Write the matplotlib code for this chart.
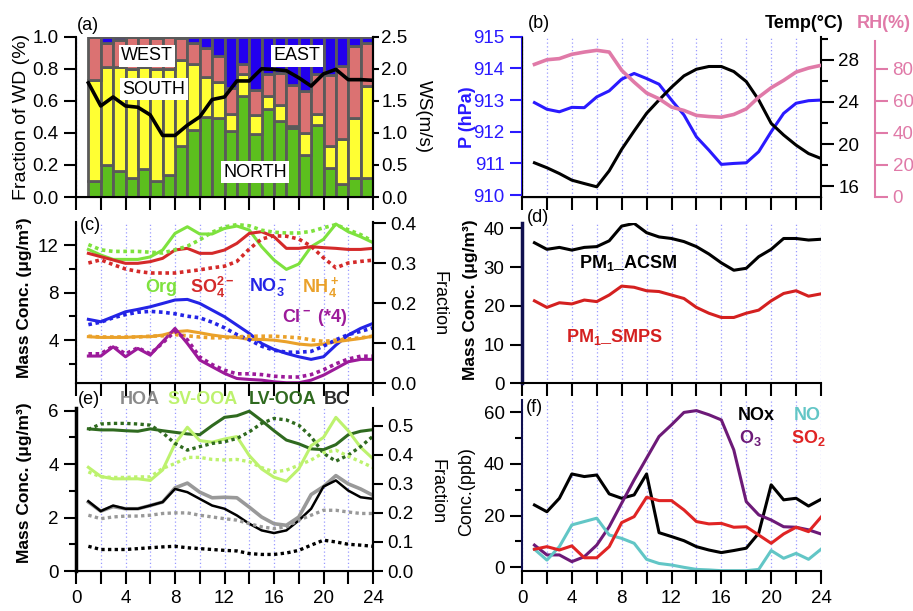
import numpy as np
import matplotlib
matplotlib.use('Agg')
import matplotlib.pyplot as plt
from matplotlib.ticker import MultipleLocator, FuncFormatter, FormatStrFormatter

plt.rcParams['font.family'] = ['Liberation Sans', 'DejaVu Sans']
plt.rcParams['mathtext.fontset'] = 'custom'
plt.rcParams['mathtext.rm'] = 'Liberation Sans'
plt.rcParams['mathtext.bf'] = 'Liberation Sans:bold'
plt.rcParams['mathtext.it'] = 'Liberation Sans:italic'
plt.rcParams['font.size'] = 13

# ---------------- data ----------------
hours = np.arange(1, 25)
bar_hours = np.arange(1, 24)

# (a) wind direction fractions per hour and wind speed
north = [0.10, 0.20, 0.16, 0.12, 0.175, 0.10, 0.14, 0.32, 0.42, 0.50, 0.49, 0.41,
         0.63, 0.395, 0.55, 0.475, 0.43, 0.26, 0.45, 0.18, 0.08, 0.12, 0.12]
south = [0.63, 0.61, 0.65, 0.68, 0.635, 0.70, 0.66, 0.535, 0.41, 0.25, 0.23, 0.11,
         0.14, 0.115, 0.08, 0.10, 0.015, 0.14, 0.07, 0.14, 0.28, 0.37, 0.57]
west = [0.27, 0.15, 0.17, 0.20, 0.19, 0.19, 0.20, 0.135, 0.13, 0.18, 0.16, 0.16,
        0.06, 0.155, 0.14, 0.20, 0.255, 0.26, 0.25, 0.44, 0.46, 0.45, 0.27]
east = [0.0, 0.04, 0.02, 0.0, 0.0, 0.01, 0.0, 0.01, 0.04, 0.07, 0.12, 0.32,
        0.17, 0.335, 0.23, 0.225, 0.30, 0.34, 0.23, 0.24, 0.18, 0.06, 0.04]
ws = [1.78, 1.42, 1.56, 1.42, 1.40, 1.28, 0.96, 0.96, 1.12, 1.25, 1.52, 1.56,
      1.81, 1.81, 2.00, 1.99, 1.97, 1.86, 1.73, 1.92, 1.99, 1.83, 1.83, 1.82]

# (b) meteorology
pres = [912.92, 912.71, 912.63, 912.77, 912.76, 913.10, 913.29, 913.66, 913.84, 913.68,
        913.50, 913.00, 912.53, 911.84, 911.42, 910.97, 911.00, 911.02, 911.37, 912.00,
        912.58, 912.90, 912.98, 913.00]
temp = [18.22, 17.75, 17.20, 16.57, 16.25, 15.94, 17.46, 19.50, 21.24, 22.92, 24.19, 25.40,
        26.48, 27.11, 27.37, 27.37, 26.89, 25.94, 24.19, 21.97, 20.86, 19.90, 19.10, 18.63]
rh = [82.7, 85.6, 86.3, 89.0, 90.4, 91.5, 90.4, 79.0, 71.6, 64.8, 61.2, 56.0,
      53.9, 50.8, 50.1, 49.7, 51.4, 54.9, 62.2, 68.1, 72.7, 77.9, 80.4, 82.1]

# (c) species mass conc. (solid) and fraction (dotted)
org = [11.63, 11.16, 10.79, 10.79, 10.79, 11.00, 11.58, 12.98, 13.54, 12.93, 12.93, 13.40,
       13.60, 13.26, 11.86, 10.74, 9.95, 10.40, 11.86, 12.48, 13.77, 13.12, 12.70, 12.20]
org_f = [0.346, 0.333, 0.329, 0.329, 0.329, 0.327, 0.325, 0.333, 0.342, 0.358, 0.377, 0.390,
         0.396, 0.393, 0.382, 0.377, 0.375, 0.375, 0.379, 0.388, 0.396, 0.383, 0.371, 0.354]
so4 = [11.30, 11.02, 10.74, 10.46, 10.46, 10.60, 10.88, 11.58, 11.72, 11.30, 11.30, 11.58,
       12.14, 12.98, 13.12, 12.70, 11.72, 11.72, 11.86, 11.78, 11.72, 11.63, 11.63, 11.72]
so4_f = [0.300, 0.308, 0.296, 0.285, 0.279, 0.275, 0.275, 0.275, 0.279, 0.283, 0.288, 0.292,
         0.304, 0.335, 0.360, 0.368, 0.367, 0.360, 0.342, 0.313, 0.288, 0.300, 0.304, 0.307]
no3 = [5.74, 5.54, 5.96, 6.38, 6.58, 6.80, 7.08, 7.37, 7.42, 7.08, 6.52, 5.96,
       5.26, 4.56, 3.71, 3.21, 2.87, 2.59, 2.37, 2.59, 3.57, 4.42, 4.98, 5.40]
no3_f = [0.146, 0.152, 0.163, 0.171, 0.177, 0.179, 0.177, 0.173, 0.167, 0.163, 0.152, 0.138,
         0.121, 0.108, 0.092, 0.082, 0.077, 0.077, 0.079, 0.092, 0.108, 0.121, 0.129, 0.138]
nh4 = [4.28, 4.22, 4.22, 4.22, 4.28, 4.28, 4.42, 4.70, 4.78, 4.61, 4.42, 4.28,
       4.22, 4.05, 4.05, 3.99, 3.85, 3.66, 3.57, 3.66, 3.85, 3.99, 4.13, 4.33]
nh4_f = [0.117, 0.115, 0.115, 0.115, 0.115, 0.117, 0.118, 0.121, 0.118, 0.115, 0.113, 0.113,
         0.115, 0.117, 0.117, 0.117, 0.115, 0.113, 0.108, 0.104, 0.107, 0.110, 0.113, 0.117]
cl = [2.65, 2.65, 3.43, 2.59, 3.29, 2.73, 3.85, 4.98, 3.71, 2.31, 1.75, 1.19,
      0.76, 0.68, 0.62, 0.48, 0.40, 0.40, 0.62, 1.04, 1.60, 2.17, 2.37, 2.37]
cl_f = [0.073, 0.073, 0.092, 0.073, 0.088, 0.073, 0.100, 0.129, 0.108, 0.065, 0.046, 0.032,
        0.023, 0.023, 0.021, 0.017, 0.015, 0.015, 0.021, 0.033, 0.048, 0.060, 0.067, 0.067]

# (d) PM1
acsm = [36.3, 34.6, 35.1, 34.4, 35.1, 35.3, 36.8, 40.6, 41.3, 38.9, 37.8, 37.4,
        36.6, 35.3, 33.4, 31.1, 29.2, 29.7, 32.7, 34.6, 37.4, 37.4, 37.0, 37.2]
smps = [21.3, 19.6, 20.8, 20.5, 21.5, 21.1, 22.8, 25.1, 24.8, 23.9, 23.7, 22.8,
        21.9, 19.6, 18.1, 17.0, 17.0, 18.1, 18.9, 21.3, 23.2, 23.9, 22.5, 23.1]

# (e) OA factors and BC
hoa = [2.58, 2.24, 2.41, 2.33, 2.33, 2.45, 2.58, 3.11, 3.29, 2.95, 2.74, 2.76,
       2.74, 2.39, 2.02, 1.77, 1.71, 2.02, 2.86, 3.16, 3.57, 3.26, 3.07, 2.83]
hoa_f = [0.192, 0.180, 0.186, 0.189, 0.189, 0.192, 0.198, 0.200, 0.200, 0.192, 0.186, 0.180,
         0.175, 0.163, 0.152, 0.146, 0.152, 0.175, 0.192, 0.209, 0.209, 0.203, 0.198, 0.198]
svooa = [3.88, 3.54, 3.45, 3.45, 3.45, 3.39, 3.78, 4.76, 5.38, 4.88, 4.82, 4.94,
         5.03, 4.32, 3.82, 3.51, 3.36, 3.82, 4.69, 5.00, 5.75, 5.25, 4.63, 4.20]
svooa_f = [0.341, 0.324, 0.322, 0.322, 0.324, 0.324, 0.353, 0.370, 0.391, 0.391, 0.384, 0.382,
           0.384, 0.376, 0.356, 0.341, 0.347, 0.364, 0.382, 0.407, 0.416, 0.395, 0.376, 0.356]
lvooa = [5.32, 5.28, 5.28, 5.25, 5.23, 5.32, 5.25, 5.19, 5.13, 5.10, 5.44, 5.75,
         5.81, 5.98, 5.63, 5.25, 4.90, 4.76, 4.57, 4.54, 4.73, 5.10, 5.23, 5.29]
lvooa_f = [0.487, 0.506, 0.508, 0.508, 0.506, 0.502, 0.476, 0.439, 0.416, 0.428, 0.439, 0.445,
           0.456, 0.479, 0.508, 0.525, 0.520, 0.502, 0.462, 0.405, 0.378, 0.399, 0.428, 0.464]
bc = [2.61, 2.24, 2.45, 2.33, 2.33, 2.45, 2.58, 3.07, 2.95, 2.70, 2.45, 2.33,
      2.08, 1.77, 1.52, 1.42, 1.52, 1.89, 2.33, 3.16, 3.39, 3.01, 2.76, 2.70]
bc_f = [0.085, 0.074, 0.074, 0.074, 0.077, 0.080, 0.083, 0.085, 0.080, 0.077, 0.074, 0.071,
        0.069, 0.060, 0.057, 0.057, 0.062, 0.071, 0.089, 0.106, 0.100, 0.092, 0.089, 0.085]

# (f) gases
nox = [24.1, 21.5, 26.7, 36.1, 35.1, 35.7, 28.4, 26.7, 28.0, 36.1, 13.4, 11.9,
       10.3, 8.0, 6.7, 5.7, 6.5, 7.4, 13.2, 31.9, 26.1, 26.7, 23.7, 26.3]
o3 = [8.6, 4.8, 4.8, 2.2, 4.1, 8.6, 15.7, 24.8, 33.8, 42.2, 50.6, 55.1,
      59.9, 60.6, 59.0, 57.0, 45.4, 25.4, 20.3, 18.3, 15.7, 15.5, 14.5, 12.9]
no = [7.0, 2.8, 8.0, 16.4, 17.7, 19.0, 12.5, 11.2, 9.3, 3.1, 1.5, 0.9,
      0.0, -0.8, -1.0, -1.3, -1.3, -1.3, -0.8, 6.5, 3.5, 5.4, 3.1, 7.0]
so2 = [7.0, 8.0, 6.7, 8.3, 3.7, 3.7, 8.0, 17.3, 19.6, 27.1, 25.8, 25.8,
       22.2, 17.7, 16.8, 17.0, 15.5, 15.7, 12.5, 9.3, 12.9, 15.5, 13.8, 19.4]

# ---------------- layout ----------------
W, H = 913, 611
fig = plt.figure(figsize=(W / 100, H / 100), dpi=100)
GRID = '#9a9aff'
DOT = (0, (1, 1))


def box(x0, top, x1, bottom):
    return fig.add_axes([x0 / W, 1 - bottom / H, (x1 - x0) / W, (bottom - top) / H])


def ftxt(x, y, s, **kw):
    kw.setdefault('ha', 'center')
    kw.setdefault('va', 'center')
    return fig.text(x / W, 1 - y / H, s, **kw)


def xstyle(ax, labels=False):
    ax.set_xlim(0, 24)
    ax.xaxis.set_major_locator(MultipleLocator(2))
    ax.xaxis.set_major_formatter(FuncFormatter(
        lambda v, p: f'{v:.0f}' if labels and v % 4 == 0 else ''))
    ax.grid(axis='x', color=GRID, ls=(0, (1, 2)), lw=0.9)
    ax.set_axisbelow(True)
    ax.tick_params(axis='x', direction='out', length=9, width=1.5, labelsize=13.5, pad=5)
    ax.spines['top'].set_visible(False)
    for s in ax.spines.values():
        s.set_linewidth(1.5)


def ystyle(ax, color='black', length=9):
    ax.tick_params(axis='y', which='major', direction='out', length=length, width=1.5,
                   labelsize=13.5, colors=color)
    ax.tick_params(axis='y', which='minor', direction='out', length=5, width=1.5, colors=color)


LX0, LX1 = 76, 373
RX0, RX1 = 522, 821

# ---- (a) wind direction and speed
axa = box(LX0, 36.7, LX1, 197)
xstyle(axa)
bottom = np.zeros(len(bar_hours))
for vals, col in [(north, '#5cbf1e'), (south, '#ffff33'), (west, '#db7272'), (east, '#2200ee')]:
    axa.bar(bar_hours, vals, width=1, align='edge', bottom=bottom, color=col,
            edgecolor='#5a5a5a', linewidth=2)
    bottom += np.array(vals)
axa.set_ylim(0, 1.0)
axa.yaxis.set_major_locator(MultipleLocator(0.2))
axa.yaxis.set_major_formatter(FormatStrFormatter('%.1f'))
ystyle(axa)
axa2 = axa.twinx()
axa2.plot(hours, ws, color='black', lw=2.6)
axa2.set_ylim(0, 2.5)
axa2.yaxis.set_major_locator(MultipleLocator(0.5))
axa2.yaxis.set_major_formatter(FormatStrFormatter('%.1f'))
axa2.spines['top'].set_visible(False)
axa2.spines['right'].set_linewidth(1.5)
ystyle(axa2, length=4)
axa2.tick_params(axis='y', pad=2)
for s, xy in [('WEST', (147, 56)), ('SOUTH', (154, 89)), ('EAST', (297, 56)), ('NORTH', (255, 172))]:
    ftxt(*xy, s, fontsize=13, bbox=dict(facecolor='white', edgecolor='none', pad=1.5))
ftxt(88, 25, '(a)')
ftxt(22, 117, 'Fraction of WD (%)', rotation=90, fontsize=14)
ftxt(423, 117, 'WS(m/s)', rotation=270, fontsize=13.5)

# ---- (b) meteorology
P_C, RH_C = '#2a1aff', '#e07aa8'
axb = box(RX0, 36.7, RX1, 196.7)
xstyle(axb)
axb.plot(hours, pres, color=P_C, lw=2.2)
axb.set_ylim(909.95, 915)
axb.yaxis.set_major_locator(MultipleLocator(1))
ystyle(axb, P_C)
axb.spines['left'].set_color(P_C)
axb.spines['right'].set_visible(False)
axb_t = axb.twinx()
axb_t.plot(hours, temp, color='black', lw=2.2)
axb_t.set_ylim(15, 30.2)
axb_t.yaxis.set_major_locator(MultipleLocator(4))
axb_t.yaxis.set_minor_locator(MultipleLocator(2))
axb_t.spines['top'].set_visible(False)
axb_t.spines['right'].set_linewidth(1.5)
ystyle(axb_t)
axb_r = axb.twinx()
axb_r.plot(hours, rh, color=RH_C, lw=2.6)
axb_r.set_ylim(0, 100)
axb_r.set_yticks([0, 20, 40, 60, 80])
axb_r.spines['right'].set_position(('outward', 39))
axb_r.spines['right'].set_bounds(0, 97)
axb_r.spines['right'].set_color(RH_C)
axb_r.spines['right'].set_linewidth(1.5)
axb_r.spines['top'].set_visible(False)
ystyle(axb_r, RH_C)
ftxt(539, 24, '(b)')
ftxt(843, 23, 'Temp(°C)', ha='right', fontsize=13, fontweight='bold')
ftxt(857, 23, 'RH(%)', ha='left', fontsize=13, fontweight='bold', color=RH_C)
ftxt(468, 117, 'P (hPa)', rotation=90, fontsize=13, fontweight='bold', color=P_C)

# ---- (c) inorganic species
C_ORG, C_SO4, C_NO3, C_NH4, C_CL = '#7ee23e', '#d42a2a', '#2424e6', '#eaa12a', '#9c1a9a'
axc = box(LX0, 222, LX1, 383)
xstyle(axc)
axc2 = axc.twinx()
for vals, frac, col in [(org, org_f, C_ORG), (so4, so4_f, C_SO4), (no3, no3_f, C_NO3),
                        (nh4, nh4_f, C_NH4), (cl, cl_f, C_CL)]:
    axc.plot(hours, vals, color=col, lw=2.2)
    axc2.plot(hours, frac, color=col, lw=2.6, ls=DOT)
axc.set_ylim(0.38, 13.94)
axc.yaxis.set_major_locator(MultipleLocator(4))
axc.yaxis.set_minor_locator(MultipleLocator(2))
ystyle(axc)
axc2.set_ylim(0, 0.4025)
axc2.yaxis.set_major_locator(MultipleLocator(0.1))
axc2.yaxis.set_major_formatter(FormatStrFormatter('%.1f'))
axc2.spines['top'].set_visible(False)
axc2.spines['right'].set_linewidth(1.5)
ystyle(axc2)
ftxt(90, 225, '(c)')
ftxt(161, 287, 'Org', fontweight='bold', color=C_ORG)
ftxt(212, 287, r'$\mathbf{SO_4^{2-}}$', color=C_SO4)
ftxt(268, 287, r'$\mathbf{NO_3^-}$', color=C_NO3)
ftxt(321, 287, r'$\mathbf{NH_4^+}$', color=C_NH4)
ftxt(315, 318, r'$\mathbf{Cl^-}$ (*4)', fontweight='bold', color=C_CL)
ftxt(24, 298, 'Mass Conc. (μg/m³)', rotation=90, fontsize=12.5, fontweight='bold')
ftxt(439, 304, 'Fraction', rotation=270)

# ---- (d) PM1
axd = box(RX0, 223, RX1, 383.3)
xstyle(axd)
axd.plot(hours, acsm, color='black', lw=2.2)
axd.plot(hours, smps, color='#d42020', lw=2.2)
axd.set_ylim(0, 41.4)
axd.yaxis.set_major_locator(MultipleLocator(10))
ystyle(axd)
axd.spines['right'].set_visible(False)
axd.spines['left'].set_color('#101050')
axd.spines['left'].set_linewidth(2.5)
ftxt(538, 218, '(d)')
ftxt(628, 263, r'$\mathbf{PM_1}$_ACSM', fontweight='bold')
ftxt(615, 337, r'$\mathbf{PM_1}$_SMPS', fontweight='bold', color='#d42020')
ftxt(470, 300, 'Mass Conc. (μg/m³)', rotation=90, fontsize=12.5, fontweight='bold')

# ---- (e) OA factors and BC
C_HOA, C_SV, C_LV = '#999999', '#bdf26e', '#2f6a1f'
axe = box(LX0, 408, LX1, 571)
xstyle(axe, labels=True)
axe2 = axe.twinx()
for vals, frac, col, lw in [(lvooa, lvooa_f, C_LV, 2.2), (svooa, svooa_f, C_SV, 2.2),
                            (hoa, hoa_f, C_HOA, 2.6), (bc, bc_f, 'black', 1.8)]:
    axe.plot(hours, vals, color=col, lw=lw)
    axe2.plot(hours, frac, color=col, lw=2.4, ls=DOT)
axe.set_ylim(0, 6.1)
axe.yaxis.set_major_locator(MultipleLocator(2))
axe.yaxis.set_minor_locator(MultipleLocator(1))
ystyle(axe)
axe.spines['left'].set_linewidth(2.5)
axe2.set_ylim(0, 0.561)
axe2.yaxis.set_major_locator(MultipleLocator(0.1))
axe2.yaxis.set_major_formatter(FormatStrFormatter('%.1f'))
axe2.spines['top'].set_visible(False)
axe2.spines['right'].set_bounds(0, 0.51)
axe2.spines['right'].set_linewidth(1.5)
ystyle(axe2, length=7)
ftxt(89, 399, '(e)')
ftxt(140, 400, 'HOA', fontweight='bold', color='#8a8a8a')
ftxt(203, 400, 'SV-OOA', fontweight='bold', color=C_SV)
ftxt(283, 400, 'LV-OOA', fontweight='bold', color=C_LV)
ftxt(337, 400, 'BC', fontweight='bold', color='#2b2b2b')
ftxt(25, 483, 'Mass Conc. (μg/m³)', rotation=90, fontsize=12.5, fontweight='bold')
ftxt(437, 492, 'Fraction', rotation=270)

# ---- (f) gases
C_NO, C_O3, C_SO2 = '#62c6c6', '#6d1a78', '#e02424'
axf = box(RX0, 400, RX1, 570.7)
xstyle(axf, labels=True)
axf.plot(hours, nox, color='black', lw=2.2)
axf.plot(hours, o3, color=C_O3, lw=2.2)
axf.plot(hours, no, color=C_NO, lw=2.2)
axf.plot(hours, so2, color=C_SO2, lw=2.2)
axf.set_ylim(-1.3, 64.7)
axf.yaxis.set_major_locator(MultipleLocator(20))
axf.yaxis.set_minor_locator(MultipleLocator(10))
ystyle(axf)
axf.spines['right'].set_visible(False)
axf.spines['left'].set_color('#101050')
ftxt(534, 407, '(f)')
ftxt(756, 415, 'NOx', fontweight='bold')
ftxt(807, 415, 'NO', fontweight='bold', color=C_NO)
ftxt(750, 438, r'$\mathbf{O_3}$', color=C_O3)
ftxt(808, 438, r'$\mathbf{SO_2}$', color=C_SO2)
ftxt(467, 492, 'Conc.(ppb)', rotation=90)

fig.savefig('out.png', dpi=100)
